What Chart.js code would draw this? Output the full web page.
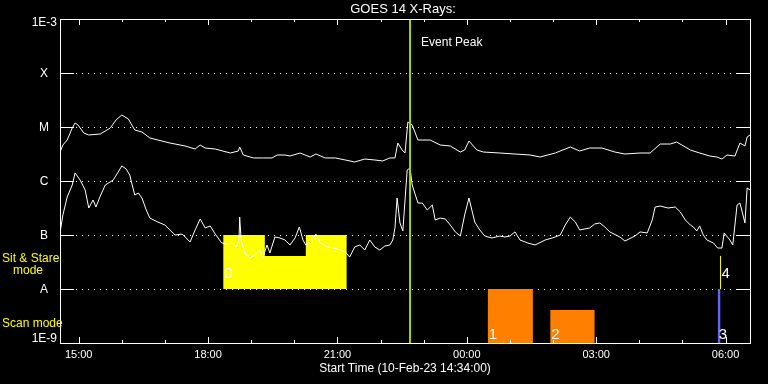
<!DOCTYPE html>
<html>
<head>
<meta charset="utf-8">
<script src="https://cdn.jsdelivr.net/npm/chart.js@4.4.0/dist/chart.umd.min.js"></script>
<style>
  html, body { margin: 0; padding: 0; background: #000; }
  canvas { display: block; }
</style>
</head>
<body>
<canvas id="goes" width="768" height="384"></canvas>
<script>
// time in minutes after the start (10-Feb-23 14:34), flux in W/m^2
var longMin = [0,4,10,17,21,25,33,40,56,70, 78,86,95,104,114,125,153,174,188,195,
  202,216,237,248,250,255,269,282,295,302, 313,320,334,341,348,356,369,383,397,410,
  424,438,449,459,466,470,476,480,484,490, 498,515,529,543,557,563,569,580,589,612,
  633,654,668,689,710,723,737,754,772,786, 807,821,835,849,858,877,890,904,914,921,
  928,939,946,953,956,960];
var longFlux = [3.44e-6,4.64e-6,5.74e-6,9.58e-6,1.19e-5,1.09e-5,7.74e-6,7.11e-6,7.42e-6,9.58e-6,
  1.35e-5,1.67e-5,1.41e-5,8.80e-6,8.08e-6,6.26e-6,5.05e-6,4.45e-6,3.91e-6,4.64e-6,
  4.08e-6,3.91e-6,3.30e-6,3.59e-6,4.26e-6,3.03e-6,2.67e-6,2.67e-6,2.67e-6,3.03e-6,
  3.03e-6,2.90e-6,3.30e-6,3.03e-6,2.78e-6,3.16e-6,2.67e-6,2.67e-6,2.45e-6,2.25e-6,
  2.55e-6,2.45e-6,2.35e-6,2.67e-6,2.67e-6,5.05e-6,3.75e-6,3.30e-6,1.24e-5,1.09e-5,
  5.74e-6,5.74e-6,4.64e-6,4.45e-6,3.44e-6,3.75e-6,5.50e-6,3.75e-6,3.44e-6,3.30e-6,
  3.16e-6,3.03e-6,2.78e-6,3.30e-6,4.26e-6,3.59e-6,4.08e-6,4.08e-6,3.44e-6,3.16e-6,
  3.30e-6,3.30e-6,4.84e-6,4.84e-6,5.27e-6,3.75e-6,3.30e-6,2.90e-6,2.78e-6,2.55e-6,
  3.03e-6,2.90e-6,5.05e-6,4.45e-6,6.53e-6,7.11e-6];

var shortMin = [0,4,10,17,21,28,35,40,46,50, 56,63,74,81,86,92,97,104,109,114,
  120,125,136,146,160,170,181,188,195,202, 209,216,225,234,239,245,249,250,252,257,
  264,271,278,282,288,292,299,306,313,320, 327,333,338,342,351,356,362,373,380,390,
  397,403,410,417,424,431,438,445,452,459, 463,466,469,473,477,483,487,490,498,504,
  511,518,522,529,536,543,550,557,563,569, 573,577,584,591,601,612,619,626,633,640,
  651,661,675,685,696,703,710,717,723,737, 744,751,758,765,779,786,800,807,817,824,
  828,835,846,856,863,870,877,881,886,890, 895,900,909,915,921,924,932,936,942,946,
  953,956,960];
var shortFlux = [1.09e-7,2.35e-7,5.05e-7,8.43e-7,1.41e-6,1.04e-6,6.81e-7,3.16e-7,4.45e-7,3.30e-7,
  5.27e-7,8.43e-7,1.04e-6,1.47e-6,1.90e-6,1.67e-6,1.29e-6,5.50e-7,5.99e-7,4.84e-7,
  2.90e-7,2.06e-7,1.74e-7,1.53e-7,1.00e-7,1.04e-7,7.42e-8,1.24e-7,1.98e-7,1.35e-7,
  1.47e-7,1.04e-7,7.11e-8,6.81e-8,7.11e-8,5.99e-8,8.08e-8,2.15e-7,8.08e-8,4.64e-8,
  3.75e-8,4.26e-8,5.27e-8,3.75e-8,6.53e-8,4.64e-8,9.18e-8,8.80e-8,8.08e-8,6.53e-8,
  8.80e-8,1.41e-7,8.08e-8,6.53e-8,8.08e-8,1.04e-7,7.11e-8,5.99e-8,5.74e-8,5.27e-8,
  4.84e-8,3.91e-8,5.99e-8,6.53e-8,5.27e-8,8.08e-8,5.99e-8,5.27e-8,6.26e-8,6.53e-8,
  8.08e-8,1.35e-7,4.84e-7,1.67e-7,1.19e-7,1.60e-6,1.74e-6,8.43e-7,3.91e-7,3.91e-7,
  2.90e-7,3.59e-7,1.90e-7,2.06e-7,1.98e-7,1.53e-7,1.14e-7,9.58e-8,2.35e-7,4.84e-7,
  2.90e-7,1.74e-7,1.24e-7,9.58e-8,8.80e-8,9.58e-8,9.18e-8,9.58e-8,1.14e-7,8.08e-8,
  7.11e-8,6.53e-8,8.08e-8,8.80e-8,1.00e-7,1.53e-7,2.15e-7,1.74e-7,1.24e-7,1.35e-7,
  1.60e-7,1.67e-7,1.41e-7,1.14e-7,9.18e-8,7.74e-8,9.58e-8,1.14e-7,1.09e-7,1.90e-7,
  3.30e-7,3.44e-7,3.16e-7,3.30e-7,2.67e-7,1.90e-7,1.53e-7,1.41e-7,1.19e-7,1.47e-7,
  1.00e-7,8.08e-8,7.11e-8,5.74e-8,5.74e-8,1.09e-7,8.08e-8,6.53e-8,3.59e-7,3.91e-7,
  1.67e-7,7.42e-7,6.81e-7];

var yTicks = [1e-9, 1e-8, 1e-7, 1e-6, 1e-5, 1e-4, 1e-3];
var yLabels = ['1E-9', 'A', 'B', 'C', 'M', 'X', '1E-3'];
var xTicks = [26, 206, 386, 566, 746, 926];
var xLabels = ['15:00', '18:00', '21:00', '00:00', '03:00', '06:00'];

var eventPeakMin = 487;
// sit & stare observation 0 (outline of its top edge)
var stareMin = [227, 285, 285, 342, 342, 399];
var stareFlux = [1e-7, 1e-7, 4.1e-8, 4.1e-8, 1e-7, 1e-7];
// scan observations 1, 2, 3
var scanStart = [595, 682, 915];
var scanEnd = [658, 744, 919];
var scanTop = [1e-8, 4.1e-9, 1e-8];
var scanColor = ['#ff8000', '#ff8000', '#6464ff'];
// sit & stare observation 4 (a single line)
var obs4Min = 919;
var obs4Flux = [1e-8, 4.1e-8];
var obsNames = ['0', '1', '2', '3', '4'];
var obsMin = [227, 595, 682, 915, 919];

function pts(xs, ys) {
  return xs.map(function(x, i){ return {x: x, y: ys[i]}; });
}

var datasets = [
  {data: pts(longMin, longFlux), borderColor: '#fff', borderWidth: 1, order: 1},
  {data: pts(shortMin, shortFlux), borderColor: '#fff', borderWidth: 1, order: 1},
  {data: pts(stareMin, stareFlux), borderWidth: 0, backgroundColor: '#ffff00', fill: {value: 1e-8}, order: 3},
  {data: [{x: obs4Min, y: obs4Flux[0]}, {x: obs4Min, y: obs4Flux[1]}], borderColor: '#ffff00', borderWidth: 1, order: 0},
  {data: [{x: eventPeakMin, y: 1e-9}, {x: eventPeakMin, y: 1e-3}], borderColor: '#a4d400', borderWidth: 2, order: 0}
];
scanStart.forEach(function(s, i){
  datasets.push({
    data: [{x: s, y: scanTop[i]}, {x: scanEnd[i], y: scanTop[i]}],
    borderWidth: 0, backgroundColor: scanColor[i], fill: {value: 1e-9}, order: 3
  });
});

var FONT = '"Liberation Sans", Arial, sans-serif';

var frame = {
  id: 'frame',
  beforeDatasetsDraw: function(chart) {
    var ctx = chart.ctx, a = chart.chartArea, ys = chart.scales.y;
    ctx.save();
    ctx.strokeStyle = '#fff';
    ctx.lineWidth = 1;
    ctx.setLineDash([1, 5]);
    yTicks.slice(1, -1).forEach(function(v){
      var py = Math.round(ys.getPixelForValue(v)) + 0.5;
      ctx.beginPath(); ctx.moveTo(a.left + 16, py); ctx.lineTo(a.right - 14, py); ctx.stroke();
    });
    ctx.restore();
  },
  afterDatasetsDraw: function(chart) {
    var ctx = chart.ctx, a = chart.chartArea, xs = chart.scales.x, ys = chart.scales.y;
    ctx.save();
    ctx.strokeStyle = '#fff';
    ctx.lineWidth = 1;
    ctx.strokeRect(a.left + 0.5, a.top + 0.5, a.right - a.left, a.bottom - a.top);
    ctx.beginPath();
    yTicks.slice(1, -1).forEach(function(v){
      var py = Math.round(ys.getPixelForValue(v)) + 0.5;
      ctx.moveTo(a.left, py); ctx.lineTo(a.left + 14, py);
      ctx.moveTo(a.right, py); ctx.lineTo(a.right - 14, py);
    });
    for (var m = xTicks[0]; m <= xs.max; m += 60) {
      var px = Math.round(xs.getPixelForValue(m)) + 0.5;
      var len = xTicks.indexOf(m) >= 0 ? 6 : 3;
      ctx.moveTo(px, a.bottom); ctx.lineTo(px, a.bottom - len);
      ctx.moveTo(px, a.top); ctx.lineTo(px, a.top + len);
    }
    ctx.stroke();
    ctx.restore();
  },
  afterDraw: function(chart) {
    var ctx = chart.ctx, a = chart.chartArea, xs = chart.scales.x, ys = chart.scales.y;
    ctx.save();
    ctx.textBaseline = 'middle';
    ctx.fillStyle = '#fff';

    ctx.font = '13px ' + FONT;
    ctx.textAlign = 'center';
    ctx.fillText('GOES 14 X-Rays:', 403, 9);

    ctx.font = '12px ' + FONT;
    ctx.fillText('Start Time (10-Feb-23 14:34:00)', (a.left + a.right) / 2, 369);

    ctx.font = '11px ' + FONT;
    xTicks.forEach(function(m, i){
      ctx.fillText(xLabels[i], xs.getPixelForValue(m), 355);
    });

    ctx.font = '12px ' + FONT;
    yTicks.forEach(function(v, i){
      var py = ys.getPixelForValue(v);
      if (yLabels[i].length > 1) {
        ctx.textAlign = 'right';
        ctx.fillText(yLabels[i], 57, i === 0 ? py - 4 : py + 4);
      } else {
        ctx.textAlign = 'center';
        ctx.fillText(yLabels[i], 44, py + 1);
      }
    });

    ctx.textAlign = 'left';
    ctx.fillText('Event Peak', xs.getPixelForValue(eventPeakMin) + 11, 43);

    ctx.fillStyle = '#ffff00';
    ctx.fillText('Sit & Stare', 2, 259);
    ctx.fillText('mode', 13, 271);
    ctx.fillText('Scan mode', 2, 324);

    ctx.fillStyle = '#fff';
    ctx.font = '15px ' + FONT;
    ctx.textBaseline = 'alphabetic';
    obsNames.forEach(function(n, i){
      var px = xs.getPixelForValue(obsMin[i]) + 1;
      var base = (i === 0 || i === 4) ? ys.getPixelForValue(1e-8) - 11 : a.bottom - 4;
      ctx.fillText(n, px, base);
    });
    ctx.restore();
  }
};

new Chart(document.getElementById('goes').getContext('2d'), {
  type: 'line',
  data: {datasets: datasets},
  options: {
    responsive: false,
    animation: false,
    devicePixelRatio: 1,
    layout: {padding: {left: 60, right: 18, top: 19, bottom: 41}},
    elements: {point: {radius: 0}, line: {tension: 0}},
    plugins: {legend: {display: false}, tooltip: {enabled: false}},
    scales: {
      x: {type: 'linear', min: 0, max: 960, display: false},
      y: {type: 'logarithmic', min: 1e-9, max: 1e-3, display: false}
    }
  },
  plugins: [frame]
});
</script>
</body>
</html>
